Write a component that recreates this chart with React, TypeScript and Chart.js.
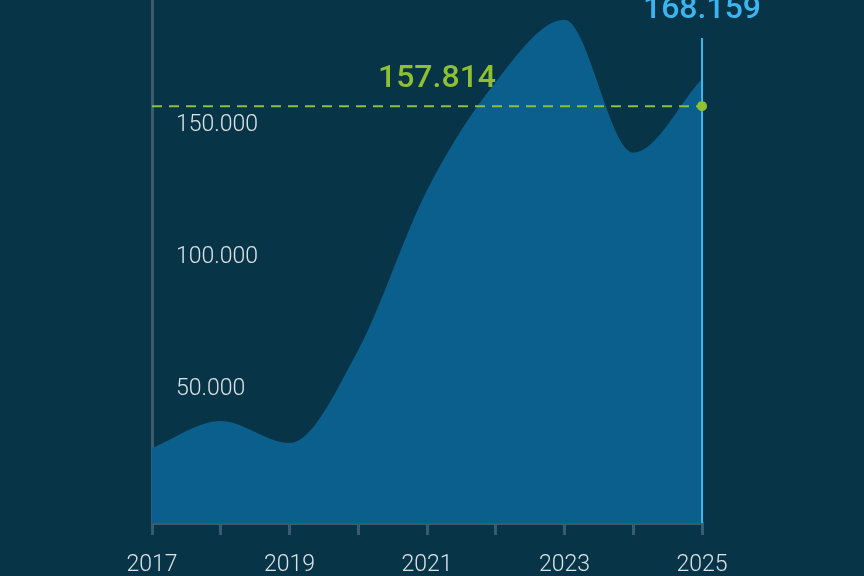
import React, { useEffect, useRef } from "react";
import { Chart, registerables } from "chart.js";

Chart.register(...registerables);

const years = ["2017", "2018", "2019", "2020", "2021", "2022", "2023", "2024", "2025"];
const values = [28400, 38600, 30300, 65500, 126000, 167000, 190500, 140200, 168159];
const yTickValues = [50000, 100000, 150000];
const referenceValue = 157814;
const lastValue = 168159;

const BG = "#073447";
const AREA = "#0b5f8d";
const AXIS = "#3b5b6e";
const TEXT = "#dce3e7";
const GREEN = "#8fc031";
const BLUE = "#3ab5f0";

const fmt = (v: number) => Math.round(v).toString().replace(/\B(?=(\d{3})+(?!\d))/g, ".");

const annotations = {
  id: "annotations",
  afterDatasetsDraw(chart: any) {
    const { ctx, chartArea, scales } = chart;
    const x = scales.x;
    const y = scales.y;
    const xl = x.getPixelForValue(years.length - 1);
    const yRef = y.getPixelForValue(referenceValue);
    ctx.save();
    ctx.strokeStyle = BLUE;
    ctx.lineWidth = 2;
    ctx.beginPath();
    ctx.moveTo(xl, 38);
    ctx.lineTo(xl, chartArea.bottom);
    ctx.stroke();
    ctx.strokeStyle = GREEN;
    ctx.lineWidth = 2;
    ctx.setLineDash([10, 7]);
    ctx.beginPath();
    ctx.moveTo(chartArea.left, yRef);
    ctx.lineTo(xl, yRef);
    ctx.stroke();
    ctx.setLineDash([]);
    ctx.fillStyle = GREEN;
    ctx.beginPath();
    ctx.arc(xl, yRef, 5, 0, Math.PI * 2);
    ctx.fill();
    ctx.font = "500 32px Roboto";
    ctx.textAlign = "center";
    ctx.textBaseline = "alphabetic";
    ctx.fillStyle = GREEN;
    ctx.fillText(fmt(referenceValue), (chartArea.left + xl) / 2 + 10, yRef - 19);
    ctx.fillStyle = BLUE;
    ctx.fillText(fmt(lastValue), xl, 18);
    ctx.restore();
  },
};

export default function App() {
  const ref = useRef<HTMLCanvasElement>(null);
  useEffect(() => {
    if (!ref.current) return;
    const chart = new Chart(ref.current, {
      type: "line",
      data: {
        labels: years,
        datasets: [
          {
            data: values,
            fill: "origin",
            backgroundColor: AREA,
            borderWidth: 0,
            pointRadius: 0,
            cubicInterpolationMode: "monotone",
            clip: false as any,
          },
        ],
      },
      options: {
        animation: false,
        responsive: false,
        layout: { padding: { left: 152, right: 162, top: 0, bottom: 0 } },
        plugins: { legend: { display: false }, tooltip: { enabled: false } },
        scales: {
          x: {
            offset: false,
            grid: {
              display: true,
              drawOnChartArea: false,
              drawTicks: true,
              tickLength: 12,
              color: AXIS,
              lineWidth: 3,
            },
            border: { display: true, color: AXIS, width: 3 },
            ticks: {
              color: TEXT,
              font: { family: "Roboto", size: 23, weight: "300" as any },
              padding: 16,
              autoSkip: false,
              maxRotation: 0,
              callback: (_v: any, i: number) => (i % 2 === 0 ? years[i] : ""),
            },
            afterFit: (s: any) => {
              s.height = 53;
              s.paddingLeft = 0;
              s.paddingRight = 0;
            },
          },
          y: {
            min: 0,
            max: 198000,
            grid: { display: false },
            border: { display: true, color: AXIS, width: 3 },
            afterBuildTicks: (s: any) => {
              s.ticks = yTickValues.map((v) => ({ value: v }));
            },
            afterFit: (s: any) => {
              s.width = 0;
              s.paddingTop = 0;
              s.paddingBottom = 0;
            },
            ticks: {
              mirror: true,
              padding: 24,
              color: TEXT,
              font: { family: "Roboto", size: 23, weight: "300" as any, lineHeight: "3px" as any },
              callback: (v: any) => [fmt(Number(v)), ""],
            },
          },
        },
      },
      plugins: [annotations],
    });
    return () => chart.destroy();
  }, []);
  return (
    <div style={{ position: "fixed", left: 0, top: 0, width: 864, height: 576, background: BG }}>
      <canvas ref={ref} width={864} height={576} style={{ width: 864, height: 576, display: "block" }} />
    </div>
  );
}
